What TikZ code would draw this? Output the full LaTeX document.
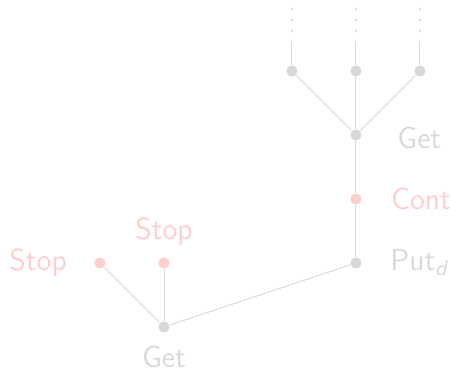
\documentclass[tikz,border=0pt]{standalone}
\usetikzlibrary{positioning}
\definecolor{lgray}{HTML}{D9D9D9}
\definecolor{lpink}{HTML}{FFCFCF}

\begin{document}
\begin{tikzpicture}[
  node distance=1cm, on grid,
  dot/.style={circle, fill=lgray, inner sep=0pt, minimum size=1.75mm},
  pdot/.style={dot, fill=lpink},
  lab/.style={font=\fontsize{13.5}{16}\selectfont\sffamily, text=lgray},
  plab/.style={lab, text=lpink},
  e/.style={draw=lgray, line width=0.4pt},
  vdots/.style={draw=lgray, line width=1.1pt, line cap=round, dash pattern=on 0pt off 0.1725cm}
]
\useasboundingbox (-2.5625,-0.6875) rectangle (4.47,5.11);
% lower part
\node[dot, label={[lab, label distance=0.08cm]below:Get}] (g0) at (0,0) {};
\node[pdot, above=of g0, label={[plab, label distance=0.05cm]above:Stop}] (stopm) {};
\node[pdot, left=of stopm, label={[plab, label distance=0.3cm]left:Stop}] (stopl) {};
\node[dot, right=3cm of stopm, label={[lab, label distance=0.32cm]right:Put\textsubscript{\itshape d}}] (putd) {};
\node[pdot, above=of putd, label={[plab, label distance=0.33cm]right:Cont}] (cont) {};
\node[dot, above=of cont, label={[lab, label distance=0.43cm, yshift=-0.5mm]right:Get}] (get) {};
% upper branches
\node[dot, above=of get] (tm) {};
\node[dot, left=of tm] (tl) {};
\node[dot, right=of tm] (tr) {};
\foreach \t in {tl,tm,tr}{
  \coordinate[above=0.47cm of \t] (\t a);
  \coordinate[above=0.625cm of \t] (\t b);
  \coordinate[above=0.97cm of \t] (\t c);
}
\draw[e] (g0) -- (stopl);
\draw[e] (g0) -- (stopm);
\draw[e] (g0) -- (putd);
\draw[e] (putd) -- (cont);
\draw[e] (cont) -- (get);
\draw[e] (get) -- (tl);
\draw[e] (get) -- (tm);
\draw[e] (get) -- (tr);
\foreach \t in {tl,tm,tr}{
  \draw[e] (\t) -- (\t a);
  \draw[vdots] (\t b) -- (\t c);
}
\end{tikzpicture}
\end{document}
